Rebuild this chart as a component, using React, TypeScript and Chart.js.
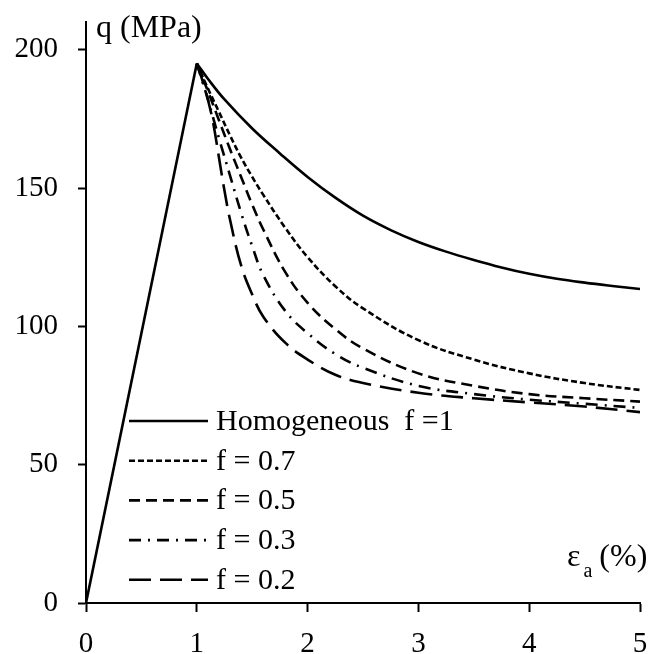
import React, { useEffect, useRef } from 'react';
import { Chart, registerables } from 'chart.js';

Chart.register(...registerables);

// ---- data ----
const riseX = [0, 1];
const riseQ = [0, 195];

const homX = [1, 1.1, 1.25, 1.5, 1.75, 2, 2.25, 2.5, 2.75, 3, 3.25, 3.5, 3.75, 4, 4.25, 4.5, 4.75, 5];
const homQ = [195, 189.5, 182, 171.5, 162.5, 154, 146.5, 140, 134.8, 130.5, 127, 124, 121.3, 119, 117.2, 115.8, 114.6, 113.5];

const f07X = [1, 1.1, 1.2, 1.3, 1.4, 1.5, 1.6, 1.8, 2, 2.25, 2.5, 3, 3.5, 4, 4.5, 5];
const f07Q = [195, 186, 177.5, 169, 161, 154, 147.5, 135.5, 125, 114.5, 106.5, 95, 88, 83, 79.5, 77];

const f05X = [1, 1.1, 1.2, 1.3, 1.4, 1.5, 1.6, 1.8, 2, 2.25, 2.5, 3, 3.5, 4, 4.5, 5];
const f05Q = [195, 185, 174.5, 164, 154, 144, 135, 119.5, 108.5, 99, 92, 83, 78.5, 75.5, 74, 72.8];

const f03X = [1, 1.1, 1.2, 1.3, 1.4, 1.5, 1.6, 1.8, 2, 2.25, 2.5, 3, 3.5, 4, 4.5, 5];
const f03Q = [195, 182, 168, 154.5, 141, 129, 118.5, 105.5, 97.5, 90, 85, 78.5, 75.5, 73.5, 72, 70.5];

const f02X = [1, 1.05, 1.1, 1.15, 1.2, 1.25, 1.3, 1.4, 1.5, 1.6, 1.8, 2, 2.25, 2.5, 3, 3.5, 4, 4.5, 5];
const f02Q = [195, 189, 182, 173, 161, 149, 138.5, 122, 111.5, 103.5, 94, 88, 82.5, 79.5, 76, 74, 72.5, 71, 69];

const xTicks = [0, 1, 2, 3, 4, 5];
const yTicks = [0, 50, 100, 150, 200];
const legendLabels = ['Homogeneous  f =1', 'f = 0.7', 'f = 0.5', 'f = 0.3', 'f = 0.2'];

const FONT = "'Liberation Serif', 'Times New Roman', serif";

const toPts = (xs: number[], qs: number[]) => xs.map((x, i) => ({ x, y: qs[i] }));

export default function App() {
  const ref = useRef<HTMLCanvasElement | null>(null);

  useEffect(() => {
    if (!ref.current) return;
    const dashStyles: number[][] = [[], [6, 3], [11, 6], [12, 7, 2, 7], [22, 9]];
    const series = [
      toPts(homX, homQ),
      toPts(f07X, f07Q),
      toPts(f05X, f05Q),
      toPts(f03X, f03Q),
      toPts(f02X, f02Q),
    ];

    const datasets: any[] = series.map((pts, i) => ({
      label: legendLabels[i],
      data: pts,
      borderColor: '#000',
      borderWidth: 2.6,
      borderDash: dashStyles[i],
      pointRadius: 0,
      fill: false,
      tension: 0.4,
    }));
    datasets.push({
      label: 'rise',
      data: toPts(riseX, riseQ),
      borderColor: '#000',
      borderWidth: 2.6,
      pointRadius: 0,
      fill: false,
      tension: 0,
    });

    const overlay = {
      id: 'overlay',
      afterDraw(chart: any) {
        const ctx = chart.ctx;
        const ca = chart.chartArea;
        ctx.save();
        ctx.fillStyle = '#000';
        ctx.strokeStyle = '#000';
        // y-axis title
        ctx.font = `32px ${FONT}`;
        ctx.textBaseline = 'alphabetic';
        ctx.textAlign = 'left';
        ctx.fillText('q (MPa)', ca.left + 10, 37);
        // x-axis title with subscript
        const xt = ca.right - 73;
        const yb = 566;
        ctx.font = `32px ${FONT}`;
        ctx.fillText('\u03B5', xt, yb);
        const w = ctx.measureText('\u03B5').width;
        ctx.font = `20px ${FONT}`;
        ctx.fillText('a', xt + w + 3, yb + 11);
        const wa = ctx.measureText('a').width;
        ctx.font = `32px ${FONT}`;
        ctx.fillText('(%)', xt + w + wa + 10, yb);
        // legend
        const lx0 = 129;
        const lx1 = 208;
        const ly0 = 421;
        const step = 39.7;
        ctx.lineWidth = 2.6;
        ctx.font = `30px ${FONT}`;
        for (let i = 0; i < legendLabels.length; i++) {
          const y = ly0 + i * step;
          ctx.setLineDash(dashStyles[i]);
          ctx.beginPath();
          ctx.moveTo(lx0, y);
          ctx.lineTo(lx1, y);
          ctx.stroke();
          ctx.setLineDash([]);
          ctx.fillText(legendLabels[i], 216, y + 9);
        }
        ctx.restore();
      },
    };

    const chart = new Chart(ref.current, {
      type: 'line',
      data: { datasets },
      plugins: [overlay],
      options: {
        animation: false,
        responsive: false,
        maintainAspectRatio: false,
        layout: { padding: { top: 22, right: 22, left: 0, bottom: 0 } },
        plugins: { legend: { display: false }, tooltip: { enabled: false } },
        scales: {
          x: {
            type: 'linear',
            min: 0,
            max: 5,
            afterBuildTicks: (s: any) => {
              s.ticks = xTicks.map((v) => ({ value: v }));
            },
            afterFit: (s: any) => {
              s.height = 51;
              s.paddingLeft = 0;
              s.paddingRight = 0;
            },
            ticks: {
              color: '#000',
              font: { family: FONT, size: 29 },
              padding: 15,
              maxRotation: 0,
              autoSkip: false,
            },
            grid: {
              drawOnChartArea: false,
              drawTicks: true,
              tickLength: 9,
              tickColor: '#000',
              tickWidth: 2,
            },
            border: { display: true, color: '#000', width: 2 },
          },
          y: {
            type: 'linear',
            min: 0,
            max: 210,
            afterBuildTicks: (s: any) => {
              s.ticks = yTicks.map((v) => ({ value: v }));
            },
            afterFit: (s: any) => {
              s.width = 86;
              s.paddingTop = 0;
              s.paddingBottom = 0;
            },
            ticks: {
              color: '#000',
              font: { family: FONT, size: 29 },
              padding: 20,
              autoSkip: false,
            },
            grid: {
              drawOnChartArea: false,
              drawTicks: true,
              tickLength: 8,
              tickColor: '#000',
              tickWidth: 2,
            },
            border: { display: true, color: '#000', width: 2 },
          },
        },
      },
    });
    return () => chart.destroy();
  }, []);

  return (
    <div style={{ position: 'fixed', left: 0, top: 0, width: 662, height: 654, background: '#fff' }}>
      <canvas ref={ref} width={662} height={654} style={{ display: 'block', width: 662, height: 654 }} />
    </div>
  );
}
